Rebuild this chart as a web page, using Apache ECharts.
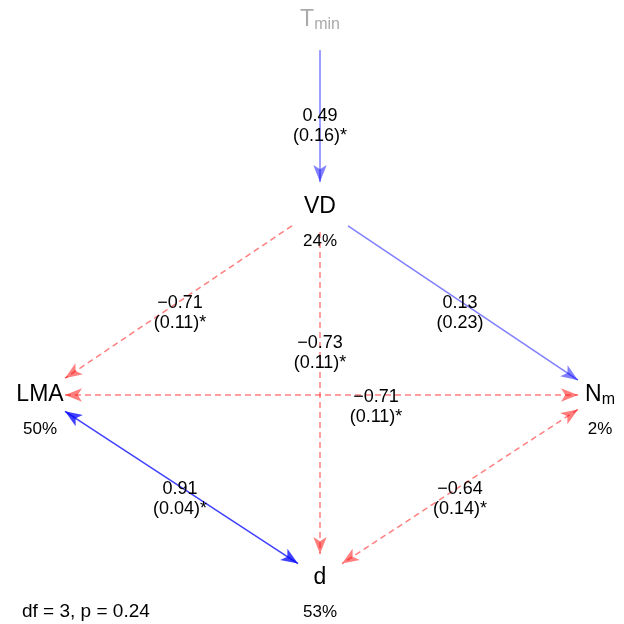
<!DOCTYPE html>
<html><head><meta charset="utf-8">
<script src="https://cdn.jsdelivr.net/npm/echarts@6/dist/echarts.min.js"></script>
<style>html,body{margin:0;padding:0;background:#fff}#c{width:624px;height:624px}</style>
</head><body><div id="c"></div>
<script>
// ---- data ----
const nodeMain = ['T', 'VD', 'LMA', 'N', 'd'];
const nodeSub = ['min', '', '', 'm', ''];
const nodeR2 = ['', '24%', '50%', '2%', '53%'];
const nodeExogenous = [true, false, false, false, false];
// node layout (diagram coordinates)
const nodeX = [320, 320, 40, 600, 320];
const nodeY = [20, 207, 395, 395, 578];

const edgeFrom = [0, 1, 1, 1, 2, 2, 3];
const edgeTo = [1, 2, 3, 4, 3, 4, 4];
const edgeEst = [0.49, -0.71, 0.13, -0.73, -0.71, 0.91, -0.64];
const edgeSE = [0.16, 0.11, 0.23, 0.11, 0.11, 0.04, 0.14];
const edgeSig = [true, true, false, true, true, true, true];
const edgeTwoWay = [false, false, false, false, true, true, true];
const edgeLabelAt = [0.5, 0.5, 0.5, 0.36, 0.6, 0.5, 0.5];
const fitText = 'df = 3, p = 0.24';

// ---- layout helpers ----
const halfW = [20, 28, 25, 22, 22];
const halfH = [30, 25, 17, 16, 24];
const FONT = '"Liberation Sans", Arial, Helvetica, sans-serif';

function clip(i, j) {
  const dx = nodeX[j] - nodeX[i], dy = nodeY[j] - nodeY[i];
  const tx = dx ? halfW[i] / Math.abs(dx) : Infinity;
  const ty = dy ? halfH[i] / Math.abs(dy) : Infinity;
  const t = Math.min(tx, ty);
  return [nodeX[i] + dx * t, nodeY[i] + dy * t];
}
function fmt(v) { return (v < 0 ? '\u2212' : '') + Math.abs(v).toFixed(2); }
function edgeColor(v) {
  const a = Math.abs(v) > 0.8 ? 0.75 : 0.5;
  return v >= 0 ? 'rgba(0,0,255,' + a + ')' : 'rgba(255,0,0,' + a + ')';
}

function edgeItem(k) {
  const i = edgeFrom[k], j = edgeTo[k];
  const v = edgeEst[k];
  return {
    coords: [clip(i, j), clip(j, i)],
    lineStyle: { color: edgeColor(v), width: 1.5, type: v >= 0 ? 'solid' : [6, 4], opacity: 1 }
  };
}
const oneWay = [], twoWay = [], edgeLabels = [];
for (let k = 0; k < edgeEst.length; k++) {
  (edgeTwoWay[k] ? twoWay : oneWay).push(edgeItem(k));
  const i = edgeFrom[k], j = edgeTo[k], f = edgeLabelAt[k];
  edgeLabels.push({
    value: [Math.round(nodeX[i] + (nodeX[j] - nodeX[i]) * f), Math.round(nodeY[i] + (nodeY[j] - nodeY[i]) * f + 12)],
    text: fmt(edgeEst[k]) + '\n(' + edgeSE[k].toFixed(2) + ')' + (edgeSig[k] ? '*' : '')
  });
}
const nodeData = nodeMain.map((m, i) => ({
  value: [nodeX[i], nodeY[i]],
  text: nodeSub[i] ? '{' + (nodeExogenous[i] ? 'gm' : 'm') + '|' + m + '}{' + (nodeExogenous[i] ? 'gs' : 's') + '|' + nodeSub[i] + '}'
                   : '{' + (nodeExogenous[i] ? 'gm' : 'm') + '|' + m + '}'
}));
const r2Data = nodeR2.map((r, i) => ({ value: [nodeX[i], nodeY[i]], text: r })).filter(d => d.text);

const chart = echarts.init(document.getElementById('c'), null, { renderer: 'canvas' });
const arrow = [[10, 17], [10, 17]];
const txt = { color: '#000', textBorderWidth: 0, textShadowBlur: 0, opacity: 1 };
chart.setOption({
  animation: false,
  backgroundColor: '#ffffff',
  title: {
    text: fitText, left: 17, top: 597, padding: 5,
    textStyle: { fontFamily: FONT, fontSize: 19, fontWeight: 'normal', color: '#000' }
  },
  grid: { left: 0, right: 0, top: 0, bottom: 0 },
  xAxis: { type: 'value', min: 0, max: 624, show: false },
  yAxis: { type: 'value', min: 0, max: 624, inverse: true, show: false },
  series: [
    { type: 'lines', coordinateSystem: 'cartesian2d', silent: true, symbol: ['none', 'arrow'], symbolSize: arrow, data: oneWay, z: 2 },
    { type: 'lines', coordinateSystem: 'cartesian2d', silent: true, symbol: ['arrow', 'arrow'], symbolSize: arrow, data: twoWay, z: 2 },
    {
      type: 'scatter', silent: true, symbolSize: 1, itemStyle: { color: '#fff', opacity: 0 }, z: 3,
      data: nodeData,
      label: Object.assign({
        show: true, position: 'inside', formatter: p => p.data.text,
        rich: {
          m: { fontFamily: FONT, fontSize: 23, color: '#000', lineHeight: 26 },
          s: { fontFamily: FONT, fontSize: 16, color: '#000', lineHeight: 14, verticalAlign: 'bottom' },
          gm: { fontFamily: FONT, fontSize: 23, color: '#aaaaaa', lineHeight: 26 },
          gs: { fontFamily: FONT, fontSize: 16, color: '#aaaaaa', lineHeight: 12, verticalAlign: 'bottom' }
        }
      }, { textBorderWidth: 0, opacity: 1 })
    },
    {
      type: 'scatter', silent: true, symbolSize: 1, itemStyle: { color: '#fff', opacity: 0 }, z: 3,
      data: r2Data,
      label: Object.assign({ show: true, position: 'inside', offset: [0, 34], formatter: p => p.data.text,
        fontFamily: FONT, fontSize: 17 }, txt)
    },
    {
      type: 'scatter', silent: true, symbolSize: 1, itemStyle: { color: '#fff', opacity: 0 }, z: 3,
      data: edgeLabels,
      label: Object.assign({ show: true, position: 'inside', formatter: p => p.data.text,
        fontFamily: FONT, fontSize: 18, lineHeight: 20, align: 'center' }, txt)
    }
  ]
});
</script></body></html>
